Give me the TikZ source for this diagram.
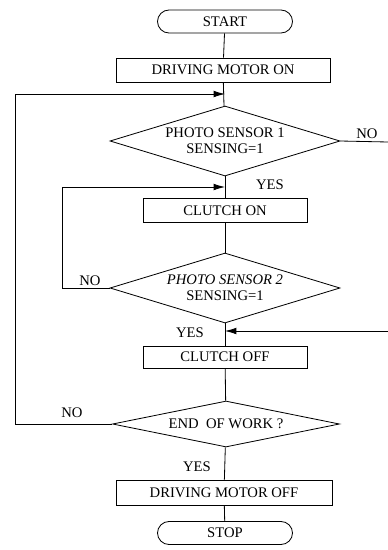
\documentclass[tikz,border=0pt]{standalone}
\usepackage{fontspec}
\setmainfont{Liberation Serif}
\usetikzlibrary{shapes.geometric,shapes.misc,arrows.meta}

\begin{document}
\begin{tikzpicture}[x=0.03cm,y=-0.03cm,line width=0.7pt,
  txt/.style={font=\fontsize{12.5}{14}\selectfont},
  term/.style={txt,draw,rounded rectangle,inner sep=0pt,minimum width=135*0.03cm,minimum height=23*0.03cm},
  box/.style={txt,draw,rectangle,inner sep=0pt,minimum height=24*0.03cm},
  test/.style={txt,draw,diamond,inner sep=0pt,align=center},
  >={Latex[length=3.4mm,width=2mm]}]
\useasboundingbox (0,0) rectangle (388,550);
\node[term] (start) at (225,21.5) {START};
\node[box,minimum width=214*0.03cm] (mon) at (223,70) {DRIVING MOTOR ON};
\node[test,aspect=3.29,minimum width=230*0.03cm,minimum height=70*0.03cm] (ps1) at (225,141) {PHOTO SENSOR 1\\SENSING=1};
\node[box,minimum width=164*0.03cm] (con) at (225,210.5) {CLUTCH ON};
\node[test,aspect=3.29,minimum width=230*0.03cm,minimum height=70*0.03cm] (ps2) at (225,288) {\itshape PHOTO SENSOR 2\\SENSING=1};
\node[box,minimum width=164*0.03cm,minimum height=22*0.03cm] (coff) at (225,357) {CLUTCH OFF};
\node[test,aspect=4.9,minimum width=227*0.03cm,minimum height=46*0.03cm] (eow) at (226,424) {END\ \ OF WORK ?};
\node[box,minimum width=216*0.03cm,minimum height=25*0.03cm] (moff) at (224,492.5) {DRIVING MOTOR OFF};
\node[term] (stop) at (225,533) {STOP};
\coordinate (j1) at (225,94);
\coordinate (j2) at (225,187);
\coordinate (j3) at (225,331);
\coordinate (e1) at (388,142);
\coordinate (e2) at (388,331);
\draw (start) -- (mon);
\draw (mon) -- (ps1);
\draw (ps1) -- (con);
\draw (con) -- (ps2);
\draw (ps2) -- (coff);
\draw (coff) -- (eow);
\draw (eow) -- (moff);
\draw (moff) -- (stop);
\draw[->] (eow.west) -- (15,424) |- (j1);
\draw[->] (ps2.west) -- (62,288) |- (j2);
\draw (ps1.east) -- (e1);
\draw[->] (e2) -- (j3);
\node[txt] (no1) at (367,134) {NO};
\node[txt] (yes1) at (270,185) {YES};
\node[txt] (no2) at (90,281) {NO};
\node[txt] (yes2) at (190,333) {YES};
\node[txt] (no3) at (72,413) {NO};
\node[txt] (yes3) at (197,467) {YES};
\end{tikzpicture}
\end{document}
